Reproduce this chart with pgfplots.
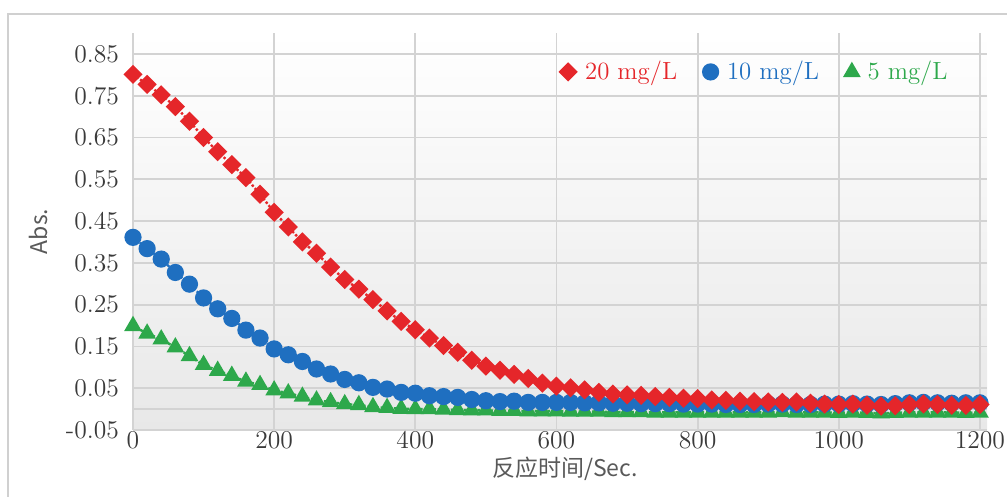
\documentclass[border=0pt]{standalone}
\usepackage{fontspec}
\usepackage{pgfplots}
\pgfplotsset{compat=1.18}
\newfontfamily\cjk{Noto Sans CJK SC}
\definecolor{cred}{HTML}{E5262A}
\definecolor{cblue}{HTML}{1F6FC0}
\definecolor{cgreen}{HTML}{2DA84B}
\definecolor{ticktxt}{HTML}{3A3A3A}
\definecolor{labtxt}{HTML}{595959}
\definecolor{gridc}{HTML}{D3D3D3}
\definecolor{framec}{HTML}{D0D0D0}
\definecolor{bgc}{HTML}{E8E8E8}
\begin{document}
\begin{tikzpicture}
\useasboundingbox (-66.5pt,-33.5pt) rectangle (437pt,215pt);
\draw[color=framec, line width=0.8pt] (-62.5pt,-40pt) -- (-62.5pt,208pt) -- (445pt,208pt);
\begin{axis}[
  at={(0pt,0pt)}, anchor=south west,
  scale only axis, width=427pt, height=198.5pt,
  xmin=0, xmax=1210, ymin=-0.05, ymax=0.9,
  clip=false,
  axis background/.style={shade, top color=white, middle color=white, bottom color=bgc},
  axis line style={draw=none},
  major tick length=0pt,
  xtick={0,200,400,600,800,1000,1200},
  xticklabels={0,200,400,600,800,1000,1200},
  ytick={-0.05,0.05,0.15,0.25,0.35,0.45,0.55,0.65,0.75,0.85},
  yticklabels={-0.05,0.05,0.15,0.25,0.35,0.45,0.55,0.65,0.75,0.85},
  extra y ticks={0},
  extra y tick labels={},
  extra y tick style={grid=major},
  grid=major,
  major grid style={color=gridc, line width=0.9pt},
  ticklabel style={font=\fontsize{12.8}{15}\selectfont, text=ticktxt},
  yticklabel style={xshift=-3.5pt},
  xticklabel style={yshift=3pt},
  xlabel={\cjk 反应时间/Sec.},
  ylabel={\cjk Abs.},
  every axis x label/.style={at={([xshift=2.5pt,yshift=-19.5pt]axis description cs:0.5,0)}, anchor=center, font=\fontsize{11.5}{14}\selectfont, text=labtxt},
  every axis y label/.style={at={([xshift=-47.5pt]axis description cs:0,0.5)}, rotate=90, anchor=center, font=\fontsize{11.5}{14}\selectfont, text=labtxt},
  legend image code/.code={\path[#1] plot[only marks] coordinates {(0.15cm,0cm)};},
  legend style={draw=none, fill=none, at={(rel axis cs:0.959,0.902)}, anchor=east,
    legend columns=3, font=\fontsize{12.4}{14}\selectfont, inner sep=0pt,
    /tikz/every odd column/.append style={column sep=2.5pt},
    /tikz/every even column/.append style={column sep=11pt}},
  reverse legend,
]
% 5 mg/L
\addplot[color=cgreen, densely dotted, line width=1.2pt, mark=triangle*, mark size=3.9pt, mark options={solid, fill=cgreen, draw=cgreen}] coordinates {
(0,0.199) (20,0.181) (40,0.167) (60,0.148) (80,0.127) (100,0.106) (120,0.092) (140,0.080) (160,0.066) (180,0.058)
(200,0.045) (220,0.038) (240,0.030) (260,0.021) (280,0.017) (300,0.012) (320,0.010) (340,0.005) (360,0.003) (380,0.001)
(400,0.000) (420,0.000) (440,-0.001) (460,-0.002) (480,-0.003) (500,-0.003) (520,-0.004) (540,-0.004) (560,-0.005) (580,-0.005)
(600,-0.005) (620,-0.006) (640,-0.006) (660,-0.006) (680,-0.007) (700,-0.007) (720,-0.007) (740,-0.008) (760,-0.008) (780,-0.008)
(800,-0.008) (820,-0.008) (840,-0.008) (860,-0.008) (880,-0.008) (900,-0.008) (920,-0.007) (940,-0.008) (960,-0.008) (980,-0.008)
(1000,-0.009) (1020,-0.008) (1040,-0.009) (1060,-0.010) (1080,-0.009) (1100,-0.008) (1120,-0.008) (1140,-0.008) (1160,-0.008) (1180,-0.009) (1200,-0.008)
};
\addlegendentry{\textcolor{cgreen}{5 mg/L}}
% 10 mg/L
\addplot[color=cblue, densely dotted, line width=1.2pt, mark=*, mark size=3.7pt, mark options={solid, fill=cblue, draw=cblue}] coordinates {
(0,0.411) (20,0.384) (40,0.359) (60,0.327) (80,0.299) (100,0.266) (120,0.240) (140,0.217) (160,0.189) (180,0.170)
(200,0.144) (220,0.130) (240,0.114) (260,0.096) (280,0.084) (300,0.071) (320,0.063) (340,0.052) (360,0.048) (380,0.040)
(400,0.038) (420,0.032) (440,0.030) (460,0.028) (480,0.023) (500,0.020) (520,0.018) (540,0.019) (560,0.016) (580,0.016)
(600,0.016) (620,0.016) (640,0.015) (660,0.015) (680,0.014) (700,0.014) (720,0.013) (740,0.013) (760,0.013) (780,0.012)
(800,0.012) (820,0.012) (840,0.011) (860,0.011) (880,0.011) (900,0.012) (920,0.012) (940,0.011) (960,0.011) (980,0.012)
(1000,0.012) (1020,0.013) (1040,0.012) (1060,0.011) (1080,0.013) (1100,0.015) (1120,0.016) (1140,0.015) (1160,0.014) (1180,0.015) (1200,0.015)
};
\addlegendentry{\textcolor{cblue}{10 mg/L}}
% 20 mg/L
\addplot[color=cred, densely dotted, line width=1.2pt, mark=square*, mark size=2.8pt, mark options={solid, rotate=45, fill=cred, draw=cred}] coordinates {
(0,0.801) (20,0.777) (40,0.752) (60,0.724) (80,0.689) (100,0.650) (120,0.616) (140,0.585) (160,0.554) (180,0.514)
(200,0.471) (220,0.436) (240,0.400) (260,0.373) (280,0.340) (300,0.310) (320,0.287) (340,0.262) (360,0.235) (380,0.210)
(400,0.190) (420,0.170) (440,0.152) (460,0.136) (480,0.117) (500,0.103) (520,0.093) (540,0.083) (560,0.073) (580,0.062)
(600,0.055) (620,0.051) (640,0.046) (660,0.040) (680,0.036) (700,0.034) (720,0.033) (740,0.030) (760,0.028) (780,0.026)
(800,0.025) (820,0.022) (840,0.021) (860,0.019) (880,0.018) (900,0.017) (920,0.016) (940,0.017) (960,0.014) (980,0.012)
(1000,0.011) (1020,0.012) (1040,0.009) (1060,0.007) (1080,0.008) (1100,0.011) (1120,0.012) (1140,0.011) (1160,0.009) (1180,0.009) (1200,0.011)
};
\addlegendentry{\textcolor{cred}{20 mg/L}}
\end{axis}
\end{tikzpicture}
\end{document}
